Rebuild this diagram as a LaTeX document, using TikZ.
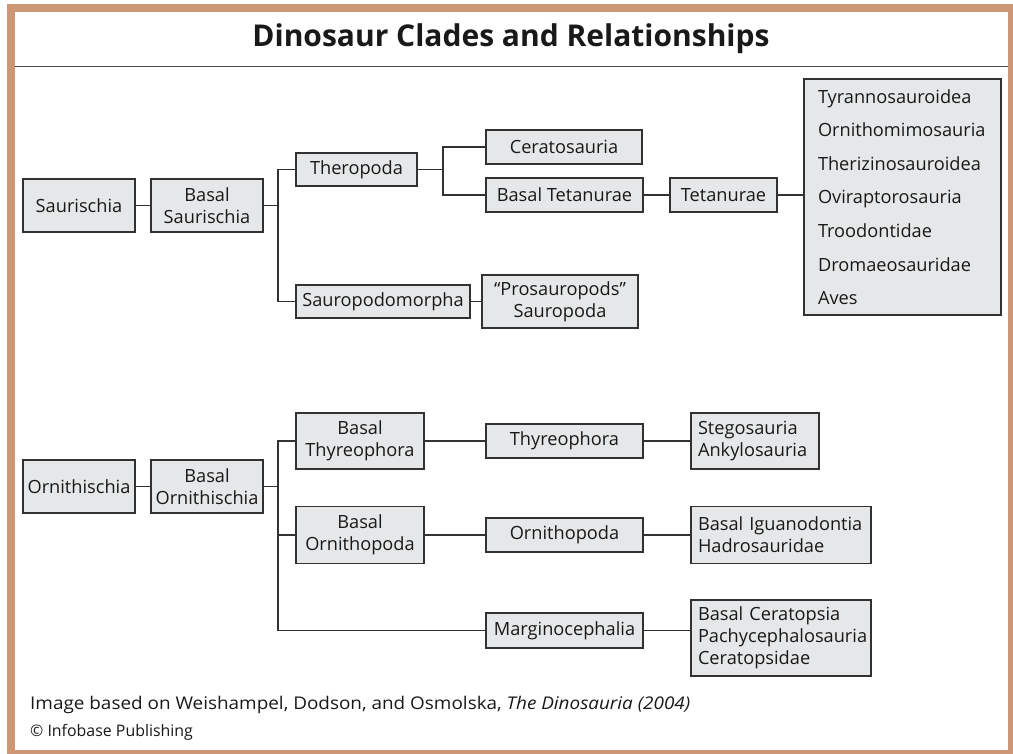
\documentclass[tikz,border=0pt]{standalone}
\usepackage{fontspec}
\setmainfont{Open Sans}
\definecolor{frame}{RGB}{205,151,118}
\definecolor{boxfill}{RGB}{230,231,232}
\definecolor{edge}{RGB}{50,50,50}
\begin{document}
\begin{tikzpicture}[x=1pt,y=-1pt,
  clade/.style={draw=edge,fill=boxfill,line width=1.5pt,inner sep=0pt,align=center,
    font={\fontsize{18.2}{22}\selectfont},text=black!90},
  lclade/.style={clade,align=left,inner xsep=7pt},
  link/.style={draw=edge,line width=1.4pt}]
\useasboundingbox (0,0) rectangle (1013,754);
\fill[frame] (7,4) rectangle (1013,754);
\fill[white] (15,12) rectangle (1008,750);
\node[font={\bfseries\fontsize{30}{36}\selectfont},text=black!90] (title) at (511,39) {Dinosaur Clades and Relationships};
\draw[black!70,line width=1.4pt] (15,66.5) -- (1008,66.5);
% Saurischia
\node[clade,minimum width=112pt,minimum height=53pt] (sau) at (79,205.5) {Saurischia};
\node[clade,minimum width=112pt,minimum height=53pt] (bsau) at (207,205.5) {Basal\\Saurischia};
\node[clade,minimum width=121pt,minimum height=33pt] (thr) at (356.5,169.5) {Theropoda};
\node[clade,minimum width=156pt,minimum height=34pt] (cer) at (564,147) {Ceratosauria};
\node[clade,minimum width=157pt,minimum height=34pt] (btet) at (564.5,195) {Basal Tetanurae};
\node[clade,minimum width=107pt,minimum height=34pt] (tet) at (723.5,195) {Tetanurae};
\node[lclade,inner xsep=14pt,text width=169pt,minimum height=236pt,font={\fontsize{18.2}{33.6}\selectfont}] (big) at (902.5,197)
  {Tyrannosauroidea\\Ornithomimosauria\\Therizinosauroidea\\Oviraptorosauria\\Troodontidae\\Dromaeosauridae\\Aves};
\node[clade,minimum width=174pt,minimum height=33pt] (spm) at (383,301.5) {Sauropodomorpha};
\node[clade,minimum width=156pt,minimum height=53pt] (pro) at (560,301.5) {“Prosauropods”\\Sauropoda};
\coordinate (j1) at (278,205.5);
\coordinate (j2) at (443,169.5);
\draw[link] (sau) -- (bsau);
\draw[link] (bsau.east) -- (j1);
\draw[link] (thr.west) -| (j1) |- (spm.west);
\draw[link] (thr.east) -- (j2);
\draw[link] (cer.west) -| (j2) |- (btet.west);
\draw[link] (btet) -- (tet);
\draw[link] (tet.east) -- (tet.east -| big.west);
\draw[link] (spm) -- (pro);
% Ornithischia
\node[clade,minimum width=112pt,minimum height=53pt] (orn) at (79,486.5) {Ornithischia};
\node[clade,minimum width=112pt,minimum height=53pt] (born) at (207,486.5) {Basal\\Ornithischia};
\node[clade,minimum width=128pt,minimum height=56pt] (bthy) at (360,441) {Basal\\Thyreophora};
\node[clade,minimum width=128pt,minimum height=57pt] (bopd) at (360,535) {Basal\\Ornithopoda};
\node[clade,minimum width=157pt,minimum height=34pt] (thy) at (564.5,441) {Thyreophora};
\node[clade,minimum width=157pt,minimum height=34pt] (opd) at (564.5,535) {Ornithopoda};
\node[clade,minimum width=157pt,minimum height=35pt] (marg) at (564.5,630.5) {Marginocephalia};
\node[lclade,text width=114pt,minimum height=56pt] (steg) at (755,441) {Stegosauria\\Ankylosauria};
\node[lclade,text width=166pt,minimum height=57pt] (igu) at (781,535) {Basal Iguanodontia\\Hadrosauridae};
\node[lclade,text width=166pt,minimum height=76pt] (cera) at (781,638) {Basal Ceratopsia\\Pachycephalosauria\\Ceratopsidae};
\coordinate (j3) at (278,486.5);
\draw[link] (orn) -- (born);
\draw[link] (born.east) -- (j3);
\draw[link] (bthy.west) -| (j3) |- (marg.west);
\draw[link] (j3 |- bopd.west) -- (bopd.west);
\draw[link] (bthy) -- (thy);
\draw[link] (thy) -- (steg);
\draw[link] (bopd) -- (opd);
\draw[link] (opd) -- (igu);
\draw[link] (marg.east) -- (marg.east -| cera.west);
% footer
\node[anchor=base west,inner sep=0pt,font={\fontsize{17.5}{20}\selectfont},text=black!90] (src) at (30,709)
  {\scalebox{1.08}[1]{Image based on Weishampel, Dodson, and Osmolska, \textit{The Dinosauria (2004)}}};
\node[anchor=base west,inner sep=0pt,font={\fontsize{15.9}{20}\selectfont},text=black!90] (copy) at (30,736)
  {© Infobase Publishing};
\end{tikzpicture}
\end{document}
